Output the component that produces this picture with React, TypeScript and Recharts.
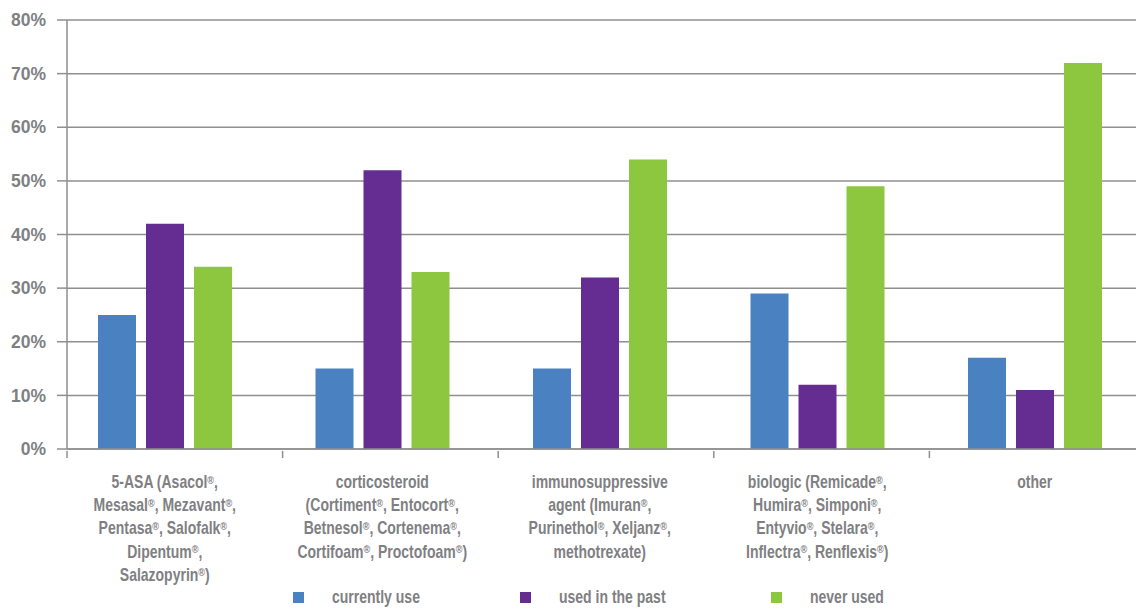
import React from "react";
import { BarChart, Bar, XAxis, YAxis, CartesianGrid, Legend } from "recharts";

const categories = ["5-ASA", "corticosteroid", "immunosuppressive", "biologic", "other"];

const categoryLines = [
  ["5-ASA (Asacol®,", "Mesasal®, Mezavant®,", "Pentasa®, Salofalk®,", "Dipentum®,", "Salazopyrin®)"],
  ["corticosteroid", "(Cortiment®, Entocort®,", "Betnesol®, Cortenema®,", "Cortifoam®, Proctofoam®)"],
  ["immunosuppressive", "agent (Imuran®,", "Purinethol®, Xeljanz®,", "methotrexate)"],
  ["biologic (Remicade®,", "Humira®, Simponi®,", "Entyvio®, Stelara®,", "Inflectra®, Renflexis®)"],
  ["other"],
];

const currentlyUse = [25, 15, 15, 29, 17];
const usedInPast = [42, 52, 32, 12, 11];
const neverUsed = [34, 33, 54, 49, 72];

const yTicks = [0, 10, 20, 30, 40, 50, 60, 70, 80];

const seriesKeys = ["current", "past", "never"];
const seriesNames = ["currently use", "used in the past", "never used"];
const seriesColors = ["#4a81c0", "#652d91", "#8dc63f"];

const data = categories.map((name, i) => ({
  name,
  current: currentlyUse[i],
  past: usedInPast[i],
  never: neverUsed[i],
}));

const GREY = "#7f8083";
const LINE = "#8f8f8f";
const FONT = '"Liberation Sans", Arial, sans-serif';
const SQUEEZE = 0.8; // no condensed face installed, so squeeze the bold one

// axis ids: the frame axis (line + tick marks) must sit next to the plot
const FRAME = "a_frame";
const CATS = "b_cats";

// renders ® smaller and raised, like the original
const withMarks = (line: string) => {
  const parts = line.split("®");
  return parts.map((p, i) => (
    <React.Fragment key={i}>
      {p}
      {i < parts.length - 1 && (
        <tspan fontSize="0.65em" baselineShift="40%">®</tspan>
      )}
    </React.Fragment>
  ));
};

const CategoryTick = (props: any) => {
  const { x, y, payload } = props;
  const idx = categories.indexOf(payload.value);
  const lines = categoryLines[idx] || [];
  return (
    <g transform={`translate(${x},0) scale(${SQUEEZE},1)`}>
      {lines.map((l, i) => (
        <text
          key={i}
          x={0}
          y={y + 31 + i * 23.2}
          textAnchor="middle"
          fill={GREY}
          fontFamily={FONT}
          fontWeight="bold"
          fontSize={17.5}
        >
          {withMarks(l)}
        </text>
      ))}
    </g>
  );
};

// tick marks sit between categories, not under them
const BoundaryTick = (props: any) => {
  const { x, y, payload } = props;
  const half = payload && payload.offset ? payload.offset : 107.8;
  const bx = x - half;
  return <line x1={bx} x2={bx} y1={y} y2={y + 7} stroke={LINE} strokeWidth={1.5} />;
};

const renderLegend = () => (
  <div
    style={{
      display: "flex",
      alignItems: "center",
      height: 24,
      paddingLeft: 293,
      fontFamily: FONT,
      fontWeight: "bold",
      fontSize: 17.5,
      color: GREY,
    }}
  >
    {seriesNames.map((n, i) => (
      <div key={n} style={{ display: "flex", alignItems: "center", width: [227, 251, 200][i] }}>
        <span
          style={{
            display: "inline-block",
            width: 11,
            height: 11,
            background: seriesColors[i],
            marginRight: 28,
          }}
        />
        <span
          style={{
            display: "inline-block",
            transform: `scaleX(${SQUEEZE})`,
            transformOrigin: "left center",
            whiteSpace: "nowrap",
          }}
        >
          {n}
        </span>
      </div>
    ))}
  </div>
);

export default function App() {
  return (
    <div
      style={{
        position: "fixed",
        left: 0,
        top: 0,
        width: 1136,
        height: 609,
        overflow: "hidden",
        background: "#fff",
      }}
    >
      <BarChart
        width={1160}
        height={609}
        data={data}
        margin={{ top: 20, right: 15, bottom: 0, left: 0 }}
        barSize={38}
        barGap={10}
      >
        <CartesianGrid
          horizontal
          vertical={false}
          stroke={LINE}
          strokeWidth={1.5}
          xAxisId={CATS}
        />
        <XAxis
          xAxisId={FRAME}
          dataKey="name"
          height={8}
          tickLine={false}
          tickSize={0}
          axisLine={{ stroke: LINE, strokeWidth: 1.5 }}
          tick={<BoundaryTick />}
          interval={0}
        />
        <XAxis
          xAxisId={CATS}
          dataKey="name"
          height={128}
          padding={{ left: -11, right: 1.5 }}
          tickLine={false}
          axisLine={false}
          tickSize={0}
          tickMargin={0}
          tick={<CategoryTick />}
          interval={0}
        />
        <YAxis
          width={67}
          domain={[0, 80]}
          ticks={yTicks}
          tickFormatter={(v) => `${v}%`}
          tickSize={10}
          tickMargin={11}
          axisLine={{ stroke: LINE, strokeWidth: 1.5 }}
          tickLine={{ stroke: LINE, strokeWidth: 1.5 }}
          tick={{
            fill: GREY,
            fontFamily: FONT,
            fontWeight: "bold",
            fontSize: 17.5,
          }}
          interval={0}
        />
        <Legend verticalAlign="bottom" content={renderLegend} wrapperStyle={{ left: 0, width: 1136 }} />
        {seriesKeys.map((k, i) => (
          <Bar
            key={k}
            xAxisId={CATS}
            dataKey={k}
            name={seriesNames[i]}
            fill={seriesColors[i]}
            isAnimationActive={false}
          />
        ))}
      </BarChart>
    </div>
  );
}
